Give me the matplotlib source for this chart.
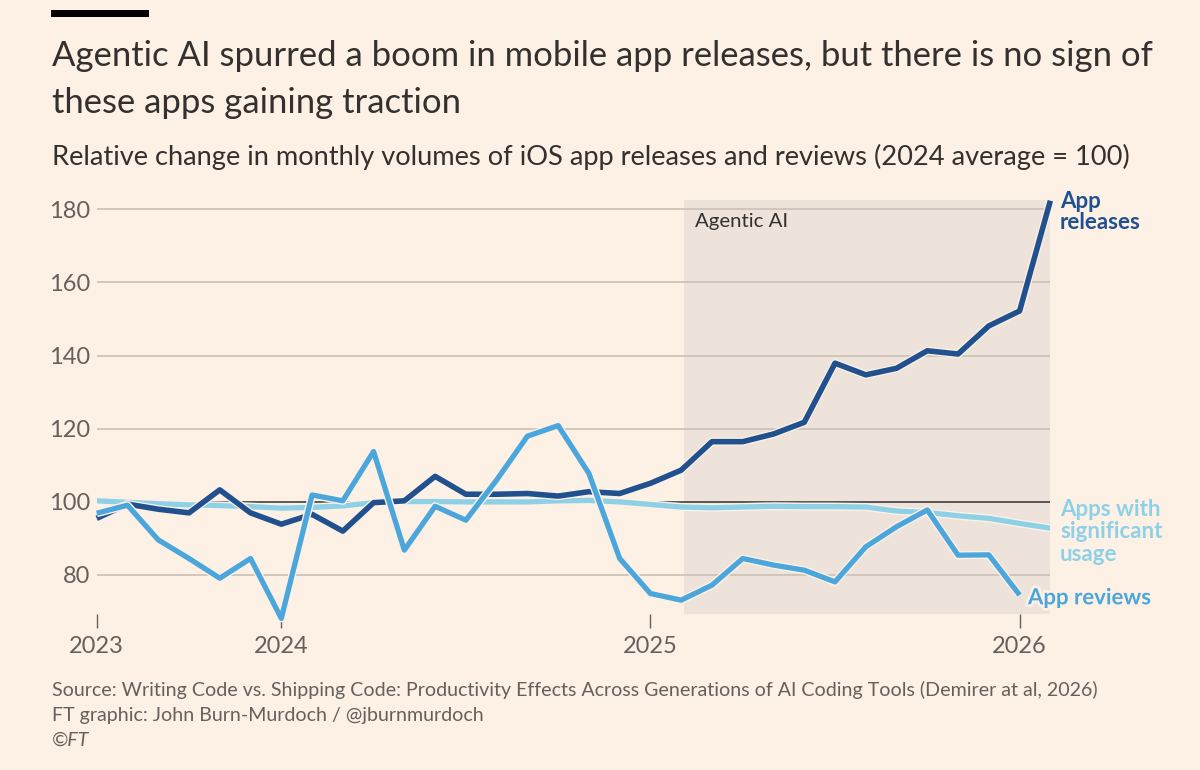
import matplotlib
matplotlib.use("Agg")
import matplotlib.pyplot as plt
import matplotlib.patheffects as pe

# --------------------------------------------------------------------------- #
# Data (monthly index, 2024 average = 100)                                    #
# --------------------------------------------------------------------------- #
RELEASES = [95.4, 99.3, 97.9, 96.9, 103.2, 96.9, 93.8, 96.5, 91.9, 99.7, 100.2,
            106.9, 102.0, 102.0, 102.2, 101.5, 102.7, 102.2, 105.0, 108.6, 116.4,
            116.4, 118.5, 121.7, 137.9, 134.7, 136.5, 141.3, 140.4, 148.1, 152.2,
            182.4]
REVIEWS = [96.8, 99.0, 89.5, 84.4, 79.0, 84.4, 68.0, 101.8, 100.2, 113.7, 86.7,
           98.7, 94.9, 105.9, 117.9, 120.8, 107.7, 84.4, 74.8, 73.0, 77.1, 84.4,
           82.6, 81.2, 78.0, 87.6, 93.1, 97.7, 85.3, 85.4, 74.4]
USAGE = [100.2, 99.8, 99.4, 99.1, 98.9, 98.6, 98.2, 98.4, 98.8, 99.7, 100.0,
         100.0, 99.9, 99.9, 99.9, 100.2, 100.3, 99.9, 99.2, 98.5, 98.3, 98.5,
         98.7, 98.6, 98.6, 98.5, 97.4, 97.0, 96.1, 95.4, 94.0, 92.7]

X_TICKS = [0, 6, 18, 30]
X_LABELS = ["2023", "2024", "2025", "2026"]
Y_TICKS = [80, 100, 120, 140, 160, 180]
AGENTIC_START, AGENTIC_END = 19.1, 31

# --------------------------------------------------------------------------- #
BG = "#fdf1e6"
SHADE = "#ede3da"
GRID = "#cdc3b9"
TEXT = "#33302e"
GREY = "#66605c"
C_REL = "#21508f"
C_REV = "#4ba6dc"
C_USE = "#8ed1e6"
FONT = "Lato"

plt.rcParams["font.family"] = [FONT, "DejaVu Sans"]

fig = plt.figure(figsize=(12, 7.7), dpi=100, facecolor=BG)
ax = fig.add_axes([0.0806, 0.2026, 0.7947, 0.5377], facecolor=BG)

ax.axvspan(AGENTIC_START, AGENTIC_END, color=SHADE, lw=0, zorder=0)
for y in Y_TICKS:
    ax.axhline(y, color=TEXT if y == 100 else GRID,
               lw=1.1 if y == 100 else 1.3, zorder=1)

halo = [pe.withStroke(linewidth=5.8, foreground=BG)]
ax.plot(range(len(USAGE)), USAGE, color=C_USE, lw=3.8, zorder=3,
        path_effects=halo, solid_capstyle="butt")
ax.plot(range(len(RELEASES)), RELEASES, color=C_REL, lw=4.0, zorder=4,
        path_effects=halo, solid_capstyle="butt", clip_on=False)
ax.plot(range(len(REVIEWS)), REVIEWS, color=C_REV, lw=3.8, zorder=5,
        path_effects=halo, solid_capstyle="butt", clip_on=False)

ax.set_xlim(0, 31)
ax.set_ylim(69.2, 182.6)
for s in ax.spines.values():
    s.set_visible(False)
ax.set_yticks(Y_TICKS)
ax.set_yticklabels([str(v) for v in Y_TICKS])
ax.set_xticks(X_TICKS)
ax.set_xticklabels(X_LABELS)
ax.tick_params(axis="y", length=0, pad=5, labelsize=17, labelcolor=GREY)
ax.tick_params(axis="x", length=10, width=1, color=GREY, direction="out",
               pad=6, labelsize=17, labelcolor=GREY)

ax.text(AGENTIC_START + 0.35, 176.8, "Agentic AI", fontsize=14.7, color=TEXT,
        va="center", ha="left")

# line labels
ax.annotate("App\nreleases", (31, RELEASES[-1]), xytext=(7, 7),
            textcoords="offset points", fontsize=16, color=C_REL,
            fontweight="bold", va="top", ha="left", linespacing=1.0,
            annotation_clip=False)
ax.annotate("Apps with\nsignificant\nusage", (31, 100.8), xytext=(7, 0),
            textcoords="offset points", fontsize=16, color=C_USE,
            fontweight="bold", va="top", ha="left", linespacing=1.1,
            annotation_clip=False)
ax.annotate("App reviews", (30, REVIEWS[-1]), xytext=(6, -2),
            textcoords="offset points", fontsize=16, color=C_REV,
            fontweight="bold", va="center", ha="left",
            annotation_clip=False,
            path_effects=[pe.withStroke(linewidth=4, foreground=BG)])

# header
fig.add_artist(plt.Rectangle((51 / 1200, 1 - 16.5 / 770), 98 / 1200, 7 / 770,
                             transform=fig.transFigure, color="black", lw=0))
fig.text(52 / 1200, 1 - 66 / 770,
         "Agentic AI spurred a boom in mobile app releases, but there is no sign of",
         fontsize=24.9, color=TEXT, va="baseline")
fig.text(52 / 1200, 1 - 113 / 770, "these apps gaining traction",
         fontsize=24.9, color=TEXT, va="baseline")
fig.text(52 / 1200, 1 - 165 / 770,
         "Relative change in monthly volumes of iOS app releases and reviews (2024 average = 100)",
         fontsize=19.6, color=TEXT, va="baseline")

# footer
foot = [
    "Source: Writing Code vs. Shipping Code: Productivity Effects Across Generations of AI Coding Tools (Demirer at al, 2026)",
    "FT graphic: John Burn-Murdoch / @jburnmurdoch",
]
for i, line in enumerate(foot):
    fig.text(52 / 1200, 1 - (696 + 25 * i) / 770, line, fontsize=14.1,
             color=GREY, va="baseline")
fig.text(52 / 1200, 1 - 746 / 770, "©FT", fontsize=14.1, color=GREY,
         va="baseline", style="italic")

fig.savefig("out.png", dpi=100, facecolor=BG)
